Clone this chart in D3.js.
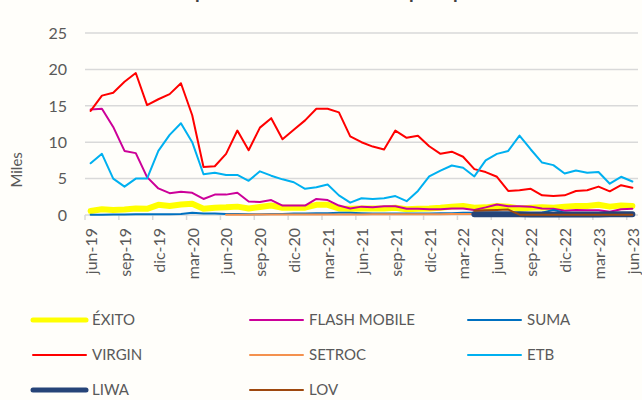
<!DOCTYPE html>
<html>
<head>
<meta charset="utf-8">
<script src="https://cdn.jsdelivr.net/npm/d3@7"></script>
<style>
  body { margin: 0; background: #fffefa; }
  text { font-family: Lato, "Liberation Sans", sans-serif; fill: #595959; }
</style>
</head>
<body>
<div id="chart"></div>
<script>
// meses jun-19 .. jun-23
var nombresMes = ["ene", "feb", "mar", "abr", "may", "jun", "jul", "ago", "sep", "oct", "nov", "dic"];
var meses = [];
for (var k = 0; k < 49; k++) {
    var m = (5 + k) % 12, a = 19 + Math.floor((5 + k) / 12);
    meses.push(nombresMes[m] + "-" + a);
}
var etiquetasX = meses.filter(function (d, i) { return i % 3 == 0; });
var ticksY = [0, 5, 10, 15, 20, 25];

var exito = [0.55, 0.8, 0.7, 0.75, 0.9, 0.85, 1.4, 1.25, 1.45, 1.55,
    0.85, 1.0, 1.05, 1.15, 0.9, 1.1, 1.3, 1.0, 1.0, 1.0,
    1.4, 1.4, 0.9, 0.85, 0.9, 0.9, 0.9, 1.0, 0.8, 0.85,
    0.9, 1.0, 1.15, 1.25, 1.0, 1.05, 1.25, 1.15, 0.9, 1.0,
    1.05, 1.0, 1.15, 1.25, 1.25, 1.4, 1.15, 1.3, 1.25];
var flash = [14.5, 14.6, 12.1, 8.8, 8.5, 5.2, 3.65, 3.0, 3.2, 3.05,
    2.2, 2.8, 2.8, 3.05, 1.85, 1.8, 2.05, 1.3, 1.3, 1.3,
    2.2, 2.05, 1.3, 0.9, 1.15, 1.05, 1.2, 1.2, 0.85, 0.85,
    0.8, 0.8, 0.9, 0.9, 0.7, 1.05, 1.45, 1.2, 1.2, 1.15,
    0.9, 0.85, 0.6, 0.7, 0.65, 0.65, 0.45, 0.8, 0.85];
var suma = [0.05, 0.05, 0.08, 0.08, 0.1, 0.1, 0.1, 0.12, 0.15, 0.3,
    0.2, 0.2, 0.15, 0.15, 0.12, 0.12, 0.15, 0.15, 0.2, 0.2,
    0.25, 0.25, 0.3, 0.3, 0.25, 0.2, 0.2, 0.2, 0.2, 0.2,
    0.2, 0.25, 0.25, 0.3, 0.3, 0.3, 0.3, 0.25, 0.2, 0.2,
    0.3, 0.7, 0.3, 0.2, 0.2, 0.2, 0.2, 0.25, 0.25];
var virgin = [14.3, 16.4, 16.8, 18.3, 19.5, 15.1, 15.9, 16.6, 18.1, 13.7,
    6.6, 6.7, 8.4, 11.6, 8.9, 12.0, 13.3, 10.4, 11.7, 13.0,
    14.6, 14.6, 14.1, 10.8, 10.0, 9.4, 9.0, 11.6, 10.6, 10.9,
    9.45, 8.4, 8.7, 8.0, 6.3, 5.9, 5.25, 3.3, 3.4, 3.6,
    2.7, 2.6, 2.7, 3.3, 3.4, 3.9, 3.25, 4.1, 3.75];
var setroc = [null, null, null, null, null, null, null, null, null, null,
    null, null, 0.05, 0.05, 0.05, 0.06, 0.06, 0.06, 0.07, 0.07,
    0.07, 0.08, 0.08, 0.08, 0.08, 0.1, 0.1, 0.1, 0.1, 0.12,
    0.12, 0.12, 0.15, 0.15, 0.15, 0.15, 0.15, 0.15, 0.1, 0.1,
    0.1, 0.1, 0.1, 0.1, 0.1, 0.1, 0.1, 0.1, 0.1];
var etb = [7.1, 8.4, 5.0, 3.9, 5.0, 5.0, 8.8, 11.0, 12.6, 10.0,
    5.6, 5.8, 5.5, 5.5, 4.7, 6.0, 5.4, 4.9, 4.5, 3.6,
    3.8, 4.2, 2.7, 1.7, 2.3, 2.2, 2.3, 2.6, 1.9, 3.3,
    5.3, 6.1, 6.8, 6.5, 5.3, 7.5, 8.4, 8.8, 10.9, 9.0,
    7.2, 6.85, 5.7, 6.1, 5.8, 5.9, 4.3, 5.25, 4.6];
var liwa = [null, null, null, null, null, null, null, null, null, null,
    null, null, null, null, null, null, null, null, null, null,
    null, null, null, null, null, null, null, null, null, null,
    null, null, null, null, 0.1, 0.12, 0.12, 0.12, 0.1, 0.08,
    0.08, 0.08, 0.08, 0.08, 0.08, 0.08, 0.1, 0.1, 0.12];
var lov = [null, null, null, null, null, null, null, null, null, null,
    null, null, null, null, null, null, null, null, null, null,
    null, null, null, null, null, null, null, null, null, null,
    null, null, null, null, 0.6, 0.65, 0.7, 0.75, 0.05, 0.05,
    0.05, 0.05, 0.05, 0.05, 0.05, 0.05, 0.05, 0.05, 0.05];

var nombres = ["ÉXITO", "FLASH MOBILE", "SUMA", "VIRGIN", "SETROC", "ETB", "LIWA", "LOV"];
var valores = [exito, flash, suma, virgin, setroc, etb, liwa, lov];
var colores = ["#ffff00", "#cc0099", "#0070c0", "#ff0000", "#f4914e", "#00b0f0", "#264478", "#9e480e"];
var grosores = [6, 2, 2, 2, 2, 2, 6, 2];

var series = nombres.map(function (n, i) {
    return { nombre: n, color: colores[i], ancho: grosores[i], valores: valores[i] };
});

var width = 642, height = 400;
var margin = { top: 33, left: 85, bottom: 185, right: 4 };

var svg = d3.select("#chart").append("svg")
    .attr("width", width)
    .attr("height", height);

svg.append("rect").attr("width", width).attr("height", height).attr("fill", "#fffefa");

var x = d3.scalePoint()
    .domain(meses)
    .range([margin.left, width - margin.right])
    .padding(0.5);
var paso = x.step();

var y = d3.scaleLinear()
    .domain([0, 25])
    .range([height - margin.bottom, margin.top]);

// titulo (queda casi fuera de la imagen)
svg.append("text")
    .attr("x", 332)
    .attr("y", -1)
    .attr("text-anchor", "middle")
    .style("font-size", "19px")
    .style("font-weight", "bold")
    .style("fill", "#404040")
    .text("Suscriptores de telefonía móvil por operador");

// rejilla
svg.append("g").selectAll("line")
    .data(ticksY.filter(function (d) { return d > 0; }))
    .enter().append("line")
    .attr("x1", margin.left).attr("x2", width - margin.right)
    .attr("y1", function (d) { return y(d); }).attr("y2", function (d) { return y(d); })
    .attr("stroke", "#d9d9d9").attr("stroke-width", 1.5);

// eje y
svg.append("g").selectAll("text")
    .data(ticksY)
    .enter().append("text")
    .attr("x", 67)
    .attr("y", function (d) { return y(d); })
    .attr("dy", "0.36em")
    .attr("text-anchor", "end")
    .style("font-size", "16px")
    .text(function (d) { return d; });

svg.append("text")
    .attr("transform", "translate(22," + y(6.2) + ") rotate(-90)")
    .attr("text-anchor", "middle")
    .style("font-size", "15px")
    .text("Miles");

// eje x
var ejeX = svg.append("g");
ejeX.append("line")
    .attr("x1", margin.left).attr("x2", width - margin.right)
    .attr("y1", y(0)).attr("y2", y(0))
    .attr("stroke", "#d9d9d9").attr("stroke-width", 1.5);
ejeX.selectAll(".tick")
    .data(etiquetasX)
    .enter().append("line")
    .attr("class", "tick")
    .attr("x1", function (d) { return x(d) - paso / 2; })
    .attr("x2", function (d) { return x(d) - paso / 2; })
    .attr("y1", y(0)).attr("y2", y(0) + 5)
    .attr("stroke", "#d9d9d9").attr("stroke-width", 1.5);
ejeX.selectAll(".lbl")
    .data(etiquetasX)
    .enter().append("text")
    .attr("class", "lbl")
    .attr("transform", function (d) { return "translate(" + x(d) + "," + (y(0) + 13) + ") rotate(-90)"; })
    .attr("text-anchor", "end")
    .attr("dy", "0.4em")
    .style("font-size", "16px")
    .text(function (d) { return d; });

// lineas
var linea = d3.line()
    .defined(function (d) { return d != null; })
    .x(function (d, i) { return x(meses[i]); })
    .y(function (d) { return y(d); });

svg.append("g").selectAll("path")
    .data(series)
    .enter().append("path")
    .attr("d", function (d) { return linea(d.valores); })
    .attr("fill", "none")
    .attr("stroke", function (d) { return d.color; })
    .attr("stroke-width", function (d) { return d.ancho; })
    .attr("stroke-linejoin", "round")
    .attr("stroke-linecap", "round");

// leyenda
var colX = [33, 250, 468];
var filaY = [320, 355, 390];
var leyenda = svg.append("g").selectAll("g")
    .data(series)
    .enter().append("g")
    .attr("transform", function (d, i) { return "translate(" + colX[i % 3] + "," + filaY[Math.floor(i / 3)] + ")"; });
leyenda.append("line")
    .attr("x1", 0).attr("x2", 53)
    .attr("stroke", function (d) { return d.color; })
    .attr("stroke-width", function (d) { return d.ancho == 6 ? 5 : 2; })
    .attr("stroke-linecap", "round");
leyenda.append("text")
    .attr("x", 59)
    .attr("dy", "0.36em")
    .style("font-size", "15px")
    .text(function (d) { return d.nombre; });
</script>
</body>
</html>
